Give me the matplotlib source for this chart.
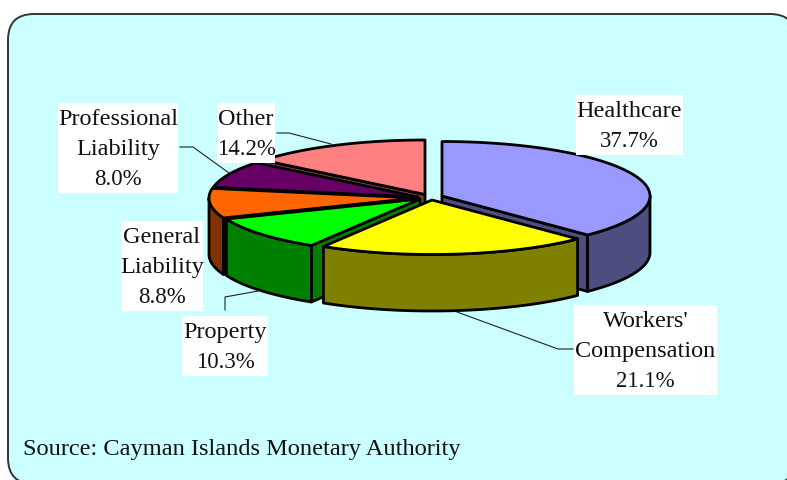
#!/usr/bin/env python3
"""
Purpose: Exploded 3-D style pie of captive insurance by line of business
"""

import numpy as np
import matplotlib
matplotlib.use('Agg')
import matplotlib.pyplot as plt
from matplotlib.patches import FancyBboxPatch, Polygon, Rectangle

# chart data
categories = ['Healthcare', "Workers'\nCompensation", 'Property',
              'General\nLiability', 'Professional\nLiability', 'Other']
shares = [37.7, 21.1, 10.3, 8.8, 8.0, 14.2]
source = 'Source: Cayman Islands Monetary Authority'

# styles, all in pixels of the 787x480 canvas
top_colors = ['#9999FF', '#FFFF00', '#00FF00', '#FF6600', '#660066', '#FF8080']
side_colors = ['#4D4D80', '#808000', '#008000', '#803300', '#330033', '#804040']
apexes = [(442, 196), (432, 200), (420, 199), (417, 198), (418, 197), (425, 194.5)]
draw_order = [5, 4, 3, 0, 2, 1]
RX = 208
RY = 54.5
DEPTH = 56.5
EDGE = 2.0

# left, top, right, bottom of the white label boxes
label_boxes = [(576, 95, 683, 155), (574, 305, 717, 395), (182, 316, 268, 376),
               (121, 221, 203, 311), (58, 103, 178, 193), (217, 103, 275, 163)]
leaders = [None,
           [(573, 349), (558, 349), (457, 312)],
           [(225, 310), (225, 297), (258, 291)],
           None,
           [(180, 147), (193, 147), (229, 173)],
           [(277, 133), (289, 133), (331, 144)]]


# --------------------------------------------------
def rim(apex, deg):
    """points on the ellipse, angles clockwise from 12 o'clock"""
    rad = np.radians(deg)
    return np.column_stack([apex[0] + RX * np.sin(rad), apex[1] - RY * np.cos(rad)])


# --------------------------------------------------
def draw_slice(ax, apex, start, end, top, side):
    """side faces first, then the wall, then the top"""
    ax_pt = np.array(apex, dtype=float)
    down = np.array([0, DEPTH])

    # radial faces that look at the viewer
    for deg, normal in [(start, start - 90), (end, end + 90)]:
        if np.cos(np.radians(normal)) < -1e-6:
            p = rim(apex, np.array([deg]))[0]
            ax.add_patch(Polygon([ax_pt, p, p + down, ax_pt + down], closed=True,
                                 fc=side, ec='black', lw=EDGE, joinstyle='round'))

    # outer wall, only the front half of the ellipse
    lo, hi = max(start, 90), min(end, 270)
    if lo < hi:
        arc = rim(apex, np.linspace(lo, hi, 60))
        ax.add_patch(Polygon(np.vstack([arc, arc[::-1] + down]), closed=True,
                             fc=side, ec='black', lw=EDGE, joinstyle='round'))

    arc = rim(apex, np.linspace(start, end, 120))
    ax.add_patch(Polygon(np.vstack([ax_pt, arc]), closed=True,
                         fc=top, ec='black', lw=EDGE, joinstyle='round'))


# --------------------------------------------------
def main():
    """Make the figure"""
    plt.rcParams['font.family'] = ['Liberation Serif', 'DejaVu Serif']

    fig = plt.figure(figsize=(7.87, 4.80), dpi=100)
    ax = fig.add_axes([0, 0, 1, 1])
    ax.set_xlim(0, 787)
    ax.set_ylim(480, 0)
    ax.axis('off')

    # panel runs off the right and bottom of the picture
    ax.add_patch(FancyBboxPatch((8, 14), 788, 470,
                                boxstyle='round,pad=0,rounding_size=26',
                                fc='#CCFFFF', ec='#333333', lw=1.4))

    ends = np.cumsum(shares) * 360 / np.sum(shares)
    starts = np.concatenate([[0], ends[:-1]])
    for i in draw_order:
        draw_slice(ax, apexes[i], starts[i], ends[i], top_colors[i], side_colors[i])

    for i, name in enumerate(categories):
        left, top, right, bottom = label_boxes[i]
        ax.add_patch(Rectangle((left, top), right - left, bottom - top,
                               fc='white', ec='none', zorder=3))
        names = name.split('\n')
        for j, line in enumerate(names):
            ax.text((left + right) / 2, top + 22 + 30 * j, line, ha='center',
                    va='baseline', fontsize=17.5, color='#111111', zorder=4)
        ax.text((left + right) / 2, top + 22 + 30 * len(names),
                '{:.1f}%'.format(shares[i]), ha='center', va='baseline',
                fontsize=16.5, color='#111111', zorder=4)
        if leaders[i]:
            xs, ys = zip(*leaders[i])
            ax.plot(xs, ys, color='#222222', lw=0.8, zorder=2)

    ax.text(23, 455, source, fontsize=17.6, color='#111111', va='baseline')

    fig.savefig('out.png', dpi=100)


# --------------------------------------------------
if __name__ == '__main__':
    main()
